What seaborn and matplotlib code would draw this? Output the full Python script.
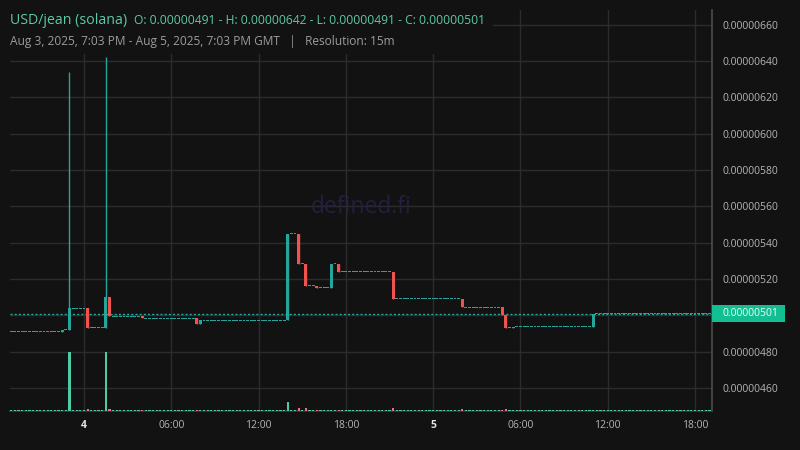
import numpy as np
import pandas as pd
import matplotlib
matplotlib.use("Agg")
import matplotlib.pyplot as plt
import matplotlib.dates as mdates
import matplotlib.transforms as mtransforms
from matplotlib.patches import Rectangle
import seaborn as sns

# 15m candles, Aug 3 19:00 -> Aug 5 19:00 (GMT); prices in units of 1e-8 USD
start_time = "2025-08-03 19:00"

close_e8 = [
    491, 491, 491, 491, 491, 491, 491, 491, 491, 491, 491, 491, 491, 491, 492, 492,
    504, 504, 504, 504, 504, 493.3, 493.3, 493.3, 493.3, 493.3, 510.3, 499.5, 499.5, 499.5, 499.5, 499.5,
    499.5, 499.5, 499.5, 499.5, 498.3, 498.3, 498.3, 498.3, 498.3, 498.3, 498.3, 498.3, 498.3, 498.3, 498.3, 498.3,
    498.3, 498.3, 498.3, 495.2, 497.2, 497.2, 497.2, 497.2, 497.2, 497.2, 497.2, 497.2, 497.2, 497.2, 497.2, 497.2,
    497.2, 497.2, 497.2, 497.2, 497.2, 497.2, 497.2, 497.2, 497.2, 497.2, 497.2, 497.2, 544.8, 544.8, 544.8, 528.3,
    528.3, 516.4, 516.4, 516.4, 515.1, 515.1, 515.1, 515.1, 528.3, 528.3, 523.9, 523.9, 523.9, 523.9, 523.9, 523.9,
    523.9, 523.9, 523.9, 523.9, 523.9, 523.9, 523.9, 523.9, 523.9, 509.2, 509.2, 509.2, 509.2, 509.2, 509.2, 509.2,
    509.2, 509.2, 509.2, 509.2, 509.2, 509.2, 509.2, 509.2, 509.2, 509.2, 509.2, 509.2, 504.6, 504.6, 504.6, 504.6,
    504.6, 504.6, 504.6, 504.6, 504.6, 504.6, 504.6, 500.2, 493.2, 493.2, 493.8, 493.8, 493.8, 493.8, 493.8, 493.8,
    493.8, 493.8, 493.8, 493.8, 493.8, 493.8, 493.8, 493.8, 493.8, 493.8, 493.8, 493.8, 493.8, 493.8, 493.8, 493.8,
    501, 501, 501, 501, 501, 501, 501, 501, 501, 501, 501, 501, 501, 501, 501, 501,
    501, 501, 501, 501, 501, 501, 501, 501, 501, 501, 501, 501, 501, 501, 501, 501,
    501,
]
first_open_e8 = 491
wick_high_e8 = {16: 634, 26: 642}

# relative volume (largest bar = 100)
volume = [
    1.5, 1.5, 1.5, 1.5, 1.5, 1.5, 1.5, 1.5, 1.5, 1.5, 1.5, 1.5, 1.5, 1.5, 2.2, 1.5,
    100, 1.5, 1.5, 1.5, 1.5, 3.9, 1.5, 1.5, 1.5, 1.5, 100, 3.9, 1.5, 1.5, 1.5, 1.5,
    1.5, 1.5, 1.5, 1.5, 1.5, 1.5, 1.5, 1.5, 1.5, 1.5, 1.5, 1.5, 1.5, 1.5, 1.5, 1.5,
    1.5, 1.5, 1.5, 1.5, 1.5, 1.5, 1.5, 1.5, 1.5, 1.5, 1.5, 1.5, 1.5, 1.5, 1.5, 1.5,
    1.5, 1.5, 1.5, 1.5, 1.5, 1.5, 1.5, 1.5, 1.5, 1.5, 1.5, 1.5, 15.7, 1.5, 1.5, 5.6,
    1.5, 5.6, 1.5, 1.5, 1.5, 1.5, 1.5, 1.5, 1.5, 1.5, 1.5, 1.5, 1.5, 1.5, 1.5, 1.5,
    1.5, 1.5, 1.5, 1.5, 1.5, 1.5, 1.5, 1.5, 1.5, 5.6, 1.5, 1.5, 1.5, 1.5, 1.5, 1.5,
    1.5, 1.5, 1.5, 1.5, 1.5, 1.5, 1.5, 1.5, 1.5, 1.5, 1.5, 1.5, 3.9, 1.5, 1.5, 1.5,
    1.5, 1.5, 1.5, 1.5, 1.5, 1.5, 1.5, 1.5, 3.9, 1.5, 1.5, 1.5, 1.5, 1.5, 1.5, 1.5,
    1.5, 1.5, 1.5, 1.5, 1.5, 1.5, 1.5, 1.5, 1.5, 1.5, 1.5, 1.5, 1.5, 1.5, 1.5, 1.5,
    2.2, 1.5, 1.5, 1.5, 1.5, 1.5, 1.5, 1.5, 1.5, 1.5, 1.5, 1.5, 1.5, 1.5, 1.5, 1.5,
    1.5, 1.5, 1.5, 1.5, 1.5, 1.5, 1.5, 1.5, 1.5, 1.5, 1.5, 1.5, 1.5, 1.5, 1.5, 1.5,
    1.5,
]

y_ticks_e8 = [460, 480, 500, 520, 540, 560, 580, 600, 620, 640, 660]
x_tick_times = ["2025-08-04 00:00", "2025-08-04 06:00", "2025-08-04 12:00", "2025-08-04 18:00",
                "2025-08-05 00:00", "2025-08-05 06:00", "2025-08-05 12:00", "2025-08-05 18:00"]
x_tick_labels = ["4", "06:00", "12:00", "18:00", "5", "06:00", "12:00", "18:00"]

title = "USD/jean (solana)"
ohlc_text = "O: 0.00000491 - H: 0.00000642 - L: 0.00000491 - C: 0.00000501"
sub_text = "Aug 3, 2025, 7:03 PM - Aug 5, 2025, 7:03 PM GMT   |   Resolution: 15m"
last_price_e8 = 501

# build frame
df = pd.DataFrame({"close": np.array(close_e8) * 1e-8, "volume": volume})
df["time"] = pd.date_range(start_time, periods=len(df), freq="15min")
df["open"] = df["close"].shift(1).fillna(first_open_e8 * 1e-8)
df["high"] = df[["open", "close"]].max(axis=1)
df["low"] = df[["open", "close"]].min(axis=1)
for k, v in wick_high_e8.items():
    df.loc[k, "high"] = v * 1e-8
df["up"] = df["close"] >= df["open"]

BG = "#121212"
UP = "#26a69a"
DOWN = "#ef5350"
VOL_UP = "#4fc9a6"
VOL_DOWN = "#e8707d"
GRID = "#2c2c2c"

sns.set_theme(style="dark", rc={
    "figure.facecolor": BG, "axes.facecolor": BG, "savefig.facecolor": BG,
    "axes.grid": True, "grid.color": GRID, "grid.linewidth": 1.0,
    "axes.edgecolor": "#4a4a4a", "text.color": "#b5b5b5",
    "xtick.color": "#b5b5b5", "ytick.color": "#b5b5b5",
})
plt.rcParams["font.family"] = ["Open Sans", "DejaVu Sans"]

fig = plt.figure(figsize=(8, 4.5), dpi=100)
ax = fig.add_axes([10 / 800, (450 - 411.3) / 450, 702.3 / 800, 401.3 / 450])

x = mdates.date2num(df["time"])
step = 15 / 1440
px_per_unit = 401.3 / (668.1 - 447.2)  # pixels per 1e-8
flat_h = 1.0 / px_per_unit * 1e-8

body_bottom = np.where(df["up"], df["open"], df["close"])
body_h = (df["close"] - df["open"]).abs().to_numpy()
flat = body_h < flat_h
body_bottom = np.where(flat, df["close"] - flat_h / 2, body_bottom)
body_h = np.where(flat, flat_h, body_h)
colors = np.where(df["up"], UP, DOWN)

ax.vlines(x, df["low"], df["high"], colors=colors, linewidth=1.0, zorder=3)
ax.bar(x, body_h, bottom=body_bottom, width=step * 0.8, color=colors,
       linewidth=0, zorder=4)

# last price line
ax.axhline(last_price_e8 * 1e-8, color=UP, linewidth=1.0, linestyle=(0, (1.5, 1.5)), zorder=2)

# volume on a twin axis
ax2 = ax.twinx()
vcolors = np.where(df["up"], VOL_UP, VOL_DOWN)
ax2.bar(x, df["volume"], width=step * 0.6, color=vcolors, linewidth=0, zorder=3)
ax2.set_ylim(0, 100 * 401.3 / 59.3)
ax2.set_yticks([])
ax2.grid(False)
for s in ax2.spines.values():
    s.set_visible(False)

ax.set_xlim(x[0] - 0.35 * step, x[-1] + 0.75 * step)
ax.set_ylim(447.2e-8, 668.1e-8)

# the 500 label sits under the last-price tag, so leave it blank
ax.yaxis.tick_right()
ax.set_yticks([v * 1e-8 for v in y_ticks_e8])
ax.set_yticklabels(["" if v == 500 else f"{v * 1e-8:.8f}" for v in y_ticks_e8], fontsize=7.5)
ax.set_xticks(mdates.date2num(pd.to_datetime(x_tick_times)))
ax.set_xticklabels(x_tick_labels, fontsize=7.5)
for lab in ax.get_xticklabels():
    if lab.get_text() in ("4", "5"):
        lab.set_fontweight("bold")
        lab.set_color("#e6e6e6")
ax.tick_params(axis="y", length=0, pad=7)
ax.tick_params(axis="x", length=0, pad=6)
for side in ("left", "top"):
    ax.spines[side].set_visible(False)
ax.spines["right"].set_color("#4a4a4a")
ax.spines["bottom"].set_color("#3a3a3a")

# last price tag
blend = mtransforms.blended_transform_factory(ax.transAxes, ax.transData)
tag_h = 17 / px_per_unit * 1e-8
ax.add_patch(Rectangle((1.0, last_price_e8 * 1e-8 - tag_h / 2), 73 / 702.3, tag_h,
                       transform=blend, facecolor="#12bf93", edgecolor="none",
                       clip_on=False, zorder=5))
ax.text(1.0 + 10 / 702.3, last_price_e8 * 1e-8, f"{last_price_e8 * 1e-8:.8f}",
        transform=blend, ha="left", va="center", fontsize=7.5, color="#effdf8", zorder=6)

# watermark
ax.text(0.5, 0.51, "defined.fi", transform=ax.transAxes, ha="center", va="center",
        fontsize=16.5, color="#231f40", zorder=1)

# header, with a background block hiding the grid behind it
fig.patches.append(Rectangle((10 / 800, 1 - 54 / 450), 483 / 800, 44 / 450,
                             transform=fig.transFigure, facecolor=BG, edgecolor="none", zorder=1))
fig.text(10 / 800, 1 - 20 / 450, title, fontsize=10.2, color="#5cc9a9", va="center", zorder=3)
fig.text(134 / 800, 1 - 20 / 450, ohlc_text, fontsize=8.7, color="#5cc9a9", va="center", zorder=3)
fig.text(10 / 800, 1 - 41 / 450, sub_text, fontsize=8.6, color="#9c9c9c", va="center", zorder=3)

fig.savefig("out.png", dpi=100, facecolor=BG)
